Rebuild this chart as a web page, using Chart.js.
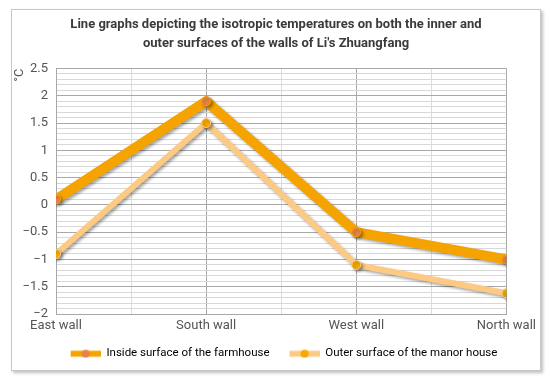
<!DOCTYPE html>
<html>
<head>
<meta charset="utf-8">
<script src="https://cdn.jsdelivr.net/npm/chart.js@4/dist/chart.umd.min.js"></script>
<style>
  body { margin: 0; background: #fff; }
  #box {
    position: absolute; left: 11px; top: 9px; width: 528px; height: 360px;
    border: 1px solid #c8c8c8; box-shadow: 2px 2px 3px rgba(0,0,0,0.25); background: #fff;
  }
</style>
</head>
<body>
<div id="box"><canvas id="chart" width="528" height="360"></canvas></div>
<script>
const walls = ["East wall", "South wall", "West wall", "North wall"];
const insideSurface = [0.1, 1.9, -0.5, -1.0];
const outerSurface = [-0.9, 1.5, -1.1, -1.62];
const seriesNames = ["Inside surface of the farmhouse", "Outer surface of the manor house"];

const FONT = "Roboto, sans-serif";

// legend swatch: line with a dot, drawn flush right in a wider canvas so items get spacing
function legendIcon(lineColor, dotColor) {
  const c = document.createElement("canvas");
  c.width = 46; c.height = 10;
  const g = c.getContext("2d");
  g.fillStyle = lineColor;
  g.fillRect(16, 2.5, 30, 6);
  g.beginPath();
  g.arc(31, 5.5, 4, 0, Math.PI * 2);
  g.fillStyle = dotColor;
  g.fill();
  return c;
}

const shadowPlugin = {
  id: "lineShadow",
  beforeDatasetDraw(chart) {
    const ctx = chart.ctx;
    ctx.save();
    ctx.shadowColor = "rgba(0,0,0,0.35)";
    ctx.shadowBlur = 3;
    ctx.shadowOffsetX = 2;
    ctx.shadowOffsetY = 2;
  },
  afterDatasetDraw(chart) {
    chart.ctx.restore();
  }
};

const ctx = document.getElementById("chart").getContext("2d");
const myChart = new Chart(ctx, {
  type: "line",
  data: {
    datasets: [
      {
        label: seriesNames[0],
        data: insideSurface.map((v, i) => ({ x: i, y: v })),
        borderColor: "#f5a300",
        borderWidth: 10,
        pointRadius: 4.5,
        pointBackgroundColor: "#e8824a",
        pointBorderColor: "#f5a300",
        pointBorderWidth: 1
      },
      {
        label: seriesNames[1],
        data: outerSurface.map((v, i) => ({ x: i, y: v })),
        borderColor: "#fdca84",
        borderWidth: 6,
        pointRadius: 4.5,
        pointBackgroundColor: "#f5a800",
        pointBorderColor: "#fdca84",
        pointBorderWidth: 1
      }
    ]
  },
  options: {
    responsive: false,
    animation: false,
    layout: { padding: { left: 0, right: 0, top: 0, bottom: 1 } },
    plugins: {
      title: {
        display: true,
        text: ["Line graphs depicting the isotropic temperatures on both the inner and", "outer surfaces of the walls of Li's Zhuangfang"],
        font: { family: FONT, size: 13, weight: "bold", lineHeight: 1.46 },
        color: "#3a3a3a",
        padding: { top: 5.5, bottom: 15 }
      },
      legend: {
        position: "bottom",
        labels: {
          font: { family: FONT, size: 11.5 },
          color: "#404040",
          usePointStyle: true,
          pointStyleWidth: 46,
          padding: 4,
          generateLabels: () => [
            { text: seriesNames[0], pointStyle: legendIcon("#f5a300", "#e8824a"), fillStyle: "#f5a300", strokeStyle: "#f5a300", lineWidth: 0, datasetIndex: 0 },
            { text: seriesNames[1], pointStyle: legendIcon("#fdca84", "#f5a800"), fillStyle: "#fdca84", strokeStyle: "#fdca84", lineWidth: 0, datasetIndex: 1 }
          ]
        }
      },
      tooltip: { enabled: false }
    },
    scales: {
      x: {
        type: "linear",
        min: 0,
        max: 3,
        afterFit: s => { s.height = 29.5; },
        ticks: {
          stepSize: 0.5,
          autoSkip: false,
          maxRotation: 0,
          padding: 4,
          font: { family: FONT, size: 13 },
          color: "#555",
          callback: v => Number.isInteger(v) ? walls[v] : ""
        },
        grid: {
          color: c => Number.isInteger(c.tick.value) ? "#a8a8a8" : "#dcdcdc",
          drawTicks: false
        },
        border: { color: "#a8a8a8" }
      },
      y: {
        min: -2,
        max: 2.5,
        afterFit: s => { s.width = 44; },
        title: {
          display: true,
          text: "°C",
          align: "end",
          font: { family: FONT, size: 13 },
          color: "#555",
          padding: 0
        },
        ticks: {
          stepSize: 0.1,
          autoSkip: false,
          font: { family: FONT, size: 13 },
          color: "#555",
          padding: 8,
          callback: v => {
            const r = Math.round(v * 10) / 10;
            if (Math.abs(r * 2 - Math.round(r * 2)) > 1e-6) return "";
            return r < 0 ? "\u2212" + Math.abs(r) : String(r);
          }
        },
        grid: {
          color: c => {
            const r = Math.round(c.tick.value * 10);
            return r % 5 === 0 ? "#a8a8a8" : "#d8d8d8";
          },
          drawTicks: false
        },
        border: { color: "#a8a8a8" }
      }
    }
  },
  plugins: [shadowPlugin]
});
</script>
</body>
</html>
